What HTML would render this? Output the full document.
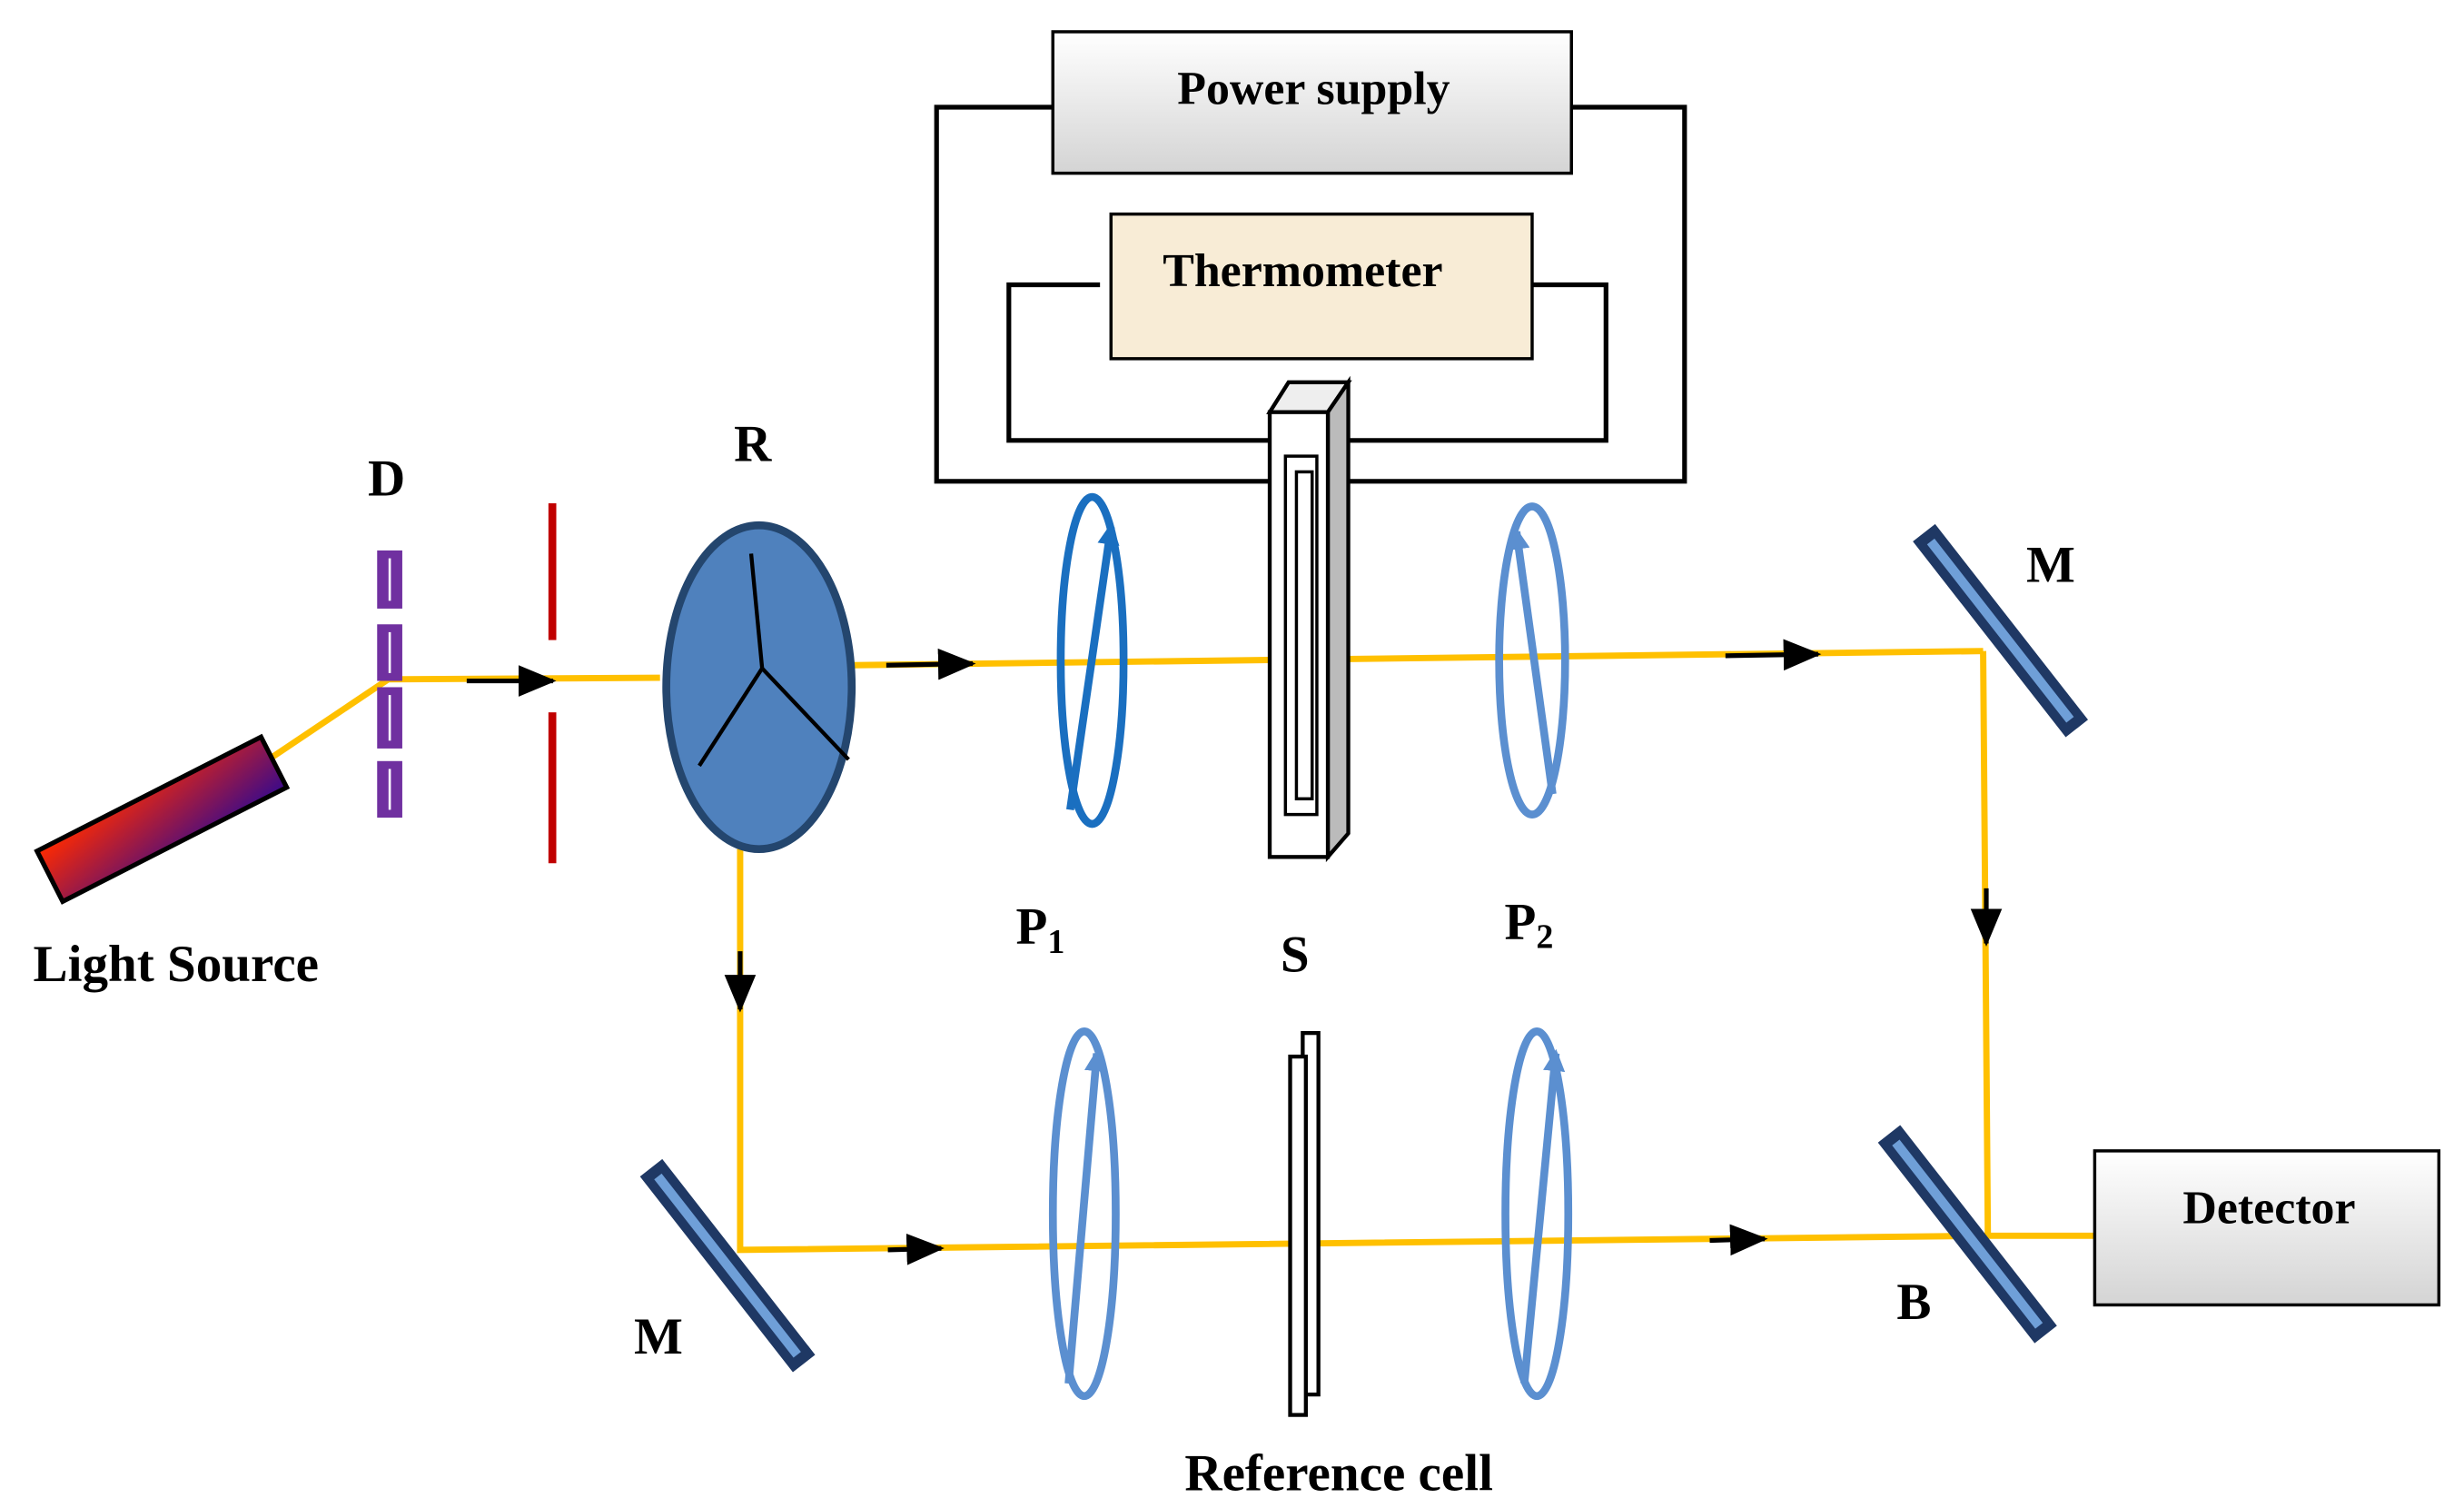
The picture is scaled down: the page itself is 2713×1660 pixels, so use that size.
<!DOCTYPE html>
<html><head><meta charset="utf-8"><style>html,body{margin:0;padding:0;background:#fff}svg{display:block}text{font-family:"Liberation Serif",serif;font-weight:bold;fill:#000}</style></head><body>
<svg width="2713" height="1660" viewBox="0 0 1568 959" xmlns="http://www.w3.org/2000/svg">
<defs>
<linearGradient id="gray" x1="0" y1="0" x2="0" y2="1"><stop offset="0" stop-color="#fff"/><stop offset="1" stop-color="#d4d4d4"/></linearGradient>
<linearGradient id="ls" x1="0" y1="0" x2="1" y2="1"><stop offset="0" stop-color="#ff2a00"/><stop offset="1" stop-color="#3a0a8a"/></linearGradient>
<marker id="ar" markerWidth="24" markerHeight="22" refX="22" refY="11" orient="auto" markerUnits="userSpaceOnUse"><path d="M0,1 L24,11 L0,21z" fill="#000"/></marker>
<marker id="ab" viewBox="0 0 10 10" markerWidth="14" markerHeight="14" refX="8" refY="5" orient="auto" markerUnits="userSpaceOnUse"><path d="M0,0 L10,5 L0,10z" fill="context-stroke"/></marker>
</defs>
<g fill="none" stroke="#000" stroke-width="3">
<polyline points="670,68 596,68 596,306 1072,306 1072,68 1000,68"/>
<polyline points="700,181 642,181 642,280 1022,280 1022,181 975,181"/>
</g>
<rect x="670" y="20" width="330" height="90" fill="url(#gray)" stroke="#000" stroke-width="2"/>
<text x="836" y="66" font-size="30" text-anchor="middle">Power supply</text>
<rect x="707" y="136" width="268" height="92" fill="#f8ecd6" stroke="#000" stroke-width="2"/>
<text x="829" y="182" font-size="30" text-anchor="middle">Thermometer</text>
<g fill="none" stroke="#ffc000" stroke-width="4">
<polyline points="165,487 247,432 420,431"/>
<line x1="543" y1="423" x2="1262" y2="414"/>
<polyline points="1262,414 1265,786 1333,786"/>
<polyline points="471,540 471,795 1265,786"/>
</g>
<g stroke="#000" stroke-width="3" fill="none">
<line x1="297" y1="433" x2="352" y2="433" marker-end="url(#ar)"/>
<line x1="564" y1="423" x2="619" y2="422" marker-end="url(#ar)"/>
<line x1="1098" y1="417" x2="1157" y2="416" marker-end="url(#ar)"/>
<line x1="471" y1="605" x2="471" y2="642" marker-end="url(#ar)"/>
<line x1="1264" y1="565" x2="1264" y2="600" marker-end="url(#ar)"/>
<line x1="565" y1="795" x2="599" y2="794" marker-end="url(#ar)"/>
<line x1="1088" y1="789" x2="1123" y2="788" marker-end="url(#ar)"/>
</g>
<g transform="translate(103,521) rotate(-27)">
<rect x="-80" y="-18" width="160" height="36" fill="url(#ls)" stroke="#000" stroke-width="3"/>
</g>
<text x="112" y="624" font-size="33" text-anchor="middle">Light Source</text>
<g fill="#7030a0">
<rect x="240" y="350" width="16" height="37"/><rect x="240" y="397" width="16" height="36"/>
<rect x="240" y="437" width="16" height="39"/><rect x="240" y="484" width="16" height="36"/>
</g>
<g stroke="#fff" stroke-width="1.5"><line x1="248" y1="355" x2="248" y2="382"/><line x1="248" y1="402" x2="248" y2="428"/><line x1="248" y1="442" x2="248" y2="471"/><line x1="248" y1="489" x2="248" y2="515"/></g>
<text x="246" y="315" font-size="33" text-anchor="middle">D</text>
<rect x="349" y="320" width="5" height="87" fill="#c00000"/><rect x="349" y="453" width="5" height="96" fill="#c00000"/>
<ellipse cx="483" cy="437" rx="59" ry="103" fill="#4f81bd" stroke="#24466e" stroke-width="5"/>
<g stroke="#000" stroke-width="2.5"><line x1="485" y1="425" x2="478" y2="352"/><line x1="485" y1="425" x2="445" y2="487"/><line x1="485" y1="425" x2="540" y2="483"/></g>
<text x="479" y="293" font-size="33" text-anchor="middle">R</text>
<polygon points="808,262 820,243 858,243 845,262" fill="#eee" stroke="#000" stroke-width="2.5"/>
<polygon points="845,262 858,243 858,530 845,545" fill="#bbb" stroke="#000" stroke-width="2.5"/>
<rect x="808" y="262" width="37" height="283" fill="#fff" stroke="#000" stroke-width="2.5"/>
<rect x="818" y="290" width="20" height="228" fill="#fff" stroke="#000" stroke-width="2"/>
<rect x="825" y="300" width="10" height="208" fill="#fff" stroke="#000" stroke-width="2"/>
<rect x="829" y="657" width="10" height="230" fill="#fff" stroke="#000" stroke-width="2.5"/>
<rect x="821" y="672" width="10" height="228" fill="#fff" stroke="#000" stroke-width="2.5"/>
<g fill="none" stroke-width="5">
<ellipse cx="695" cy="420" rx="20" ry="104" stroke="#1a6fc0"/>
<line x1="681" y1="515" x2="707" y2="335" stroke="#1a6fc0" marker-end="url(#ab)"/>
<ellipse cx="975" cy="420" rx="21" ry="98" stroke="#5b8fd0"/>
<line x1="988" y1="505" x2="965" y2="338" stroke="#5b8fd0" marker-end="url(#ab)"/>
<ellipse cx="690" cy="772" rx="20" ry="116" stroke="#5b8fd0"/>
<line x1="680" y1="880" x2="698" y2="670" stroke="#5b8fd0" marker-end="url(#ab)"/>
<ellipse cx="978" cy="772" rx="20" ry="116" stroke="#5b8fd0"/>
<line x1="970" y1="880" x2="990" y2="670" stroke="#5b8fd0" marker-end="url(#ab)"/>
</g>
<text x="662" y="600" font-size="33" text-anchor="middle">P<tspan font-size="22" dy="6">1</tspan></text>
<text x="973" y="597" font-size="33" text-anchor="middle">P<tspan font-size="22" dy="6">2</tspan></text>
<text x="824" y="618" font-size="33" text-anchor="middle">S</text>
<g transform="translate(463,805) rotate(52)"><rect x="-78" y="-8" width="156" height="16" fill="#1f3864" stroke="#1f3864" stroke-width="2"/><rect x="-72" y="-3" width="144" height="6" fill="#6f9fd8"/></g>
<g transform="translate(1273,401) rotate(52)"><rect x="-78" y="-8" width="156" height="16" fill="#1f3864" stroke="#1f3864" stroke-width="2"/><rect x="-72" y="-3" width="144" height="6" fill="#6f9fd8"/></g>
<g transform="translate(1252,785) rotate(52)"><rect x="-80" y="-8" width="160" height="16" fill="#1f3864" stroke="#1f3864" stroke-width="2"/><rect x="-74" y="-3" width="148" height="6" fill="#6f9fd8"/></g>
<text x="1305" y="370" font-size="33" text-anchor="middle">M</text>
<text x="419" y="861" font-size="33" text-anchor="middle">M</text>
<text x="1218" y="839" font-size="33" text-anchor="middle">B</text>
<rect x="1333" y="732" width="219" height="98" fill="url(#gray)" stroke="#000" stroke-width="2"/>
<text x="1444" y="778" font-size="30" text-anchor="middle">Detector</text>
<text x="852" y="948" font-size="33" text-anchor="middle">Reference cell</text>
</svg>
</body></html>
